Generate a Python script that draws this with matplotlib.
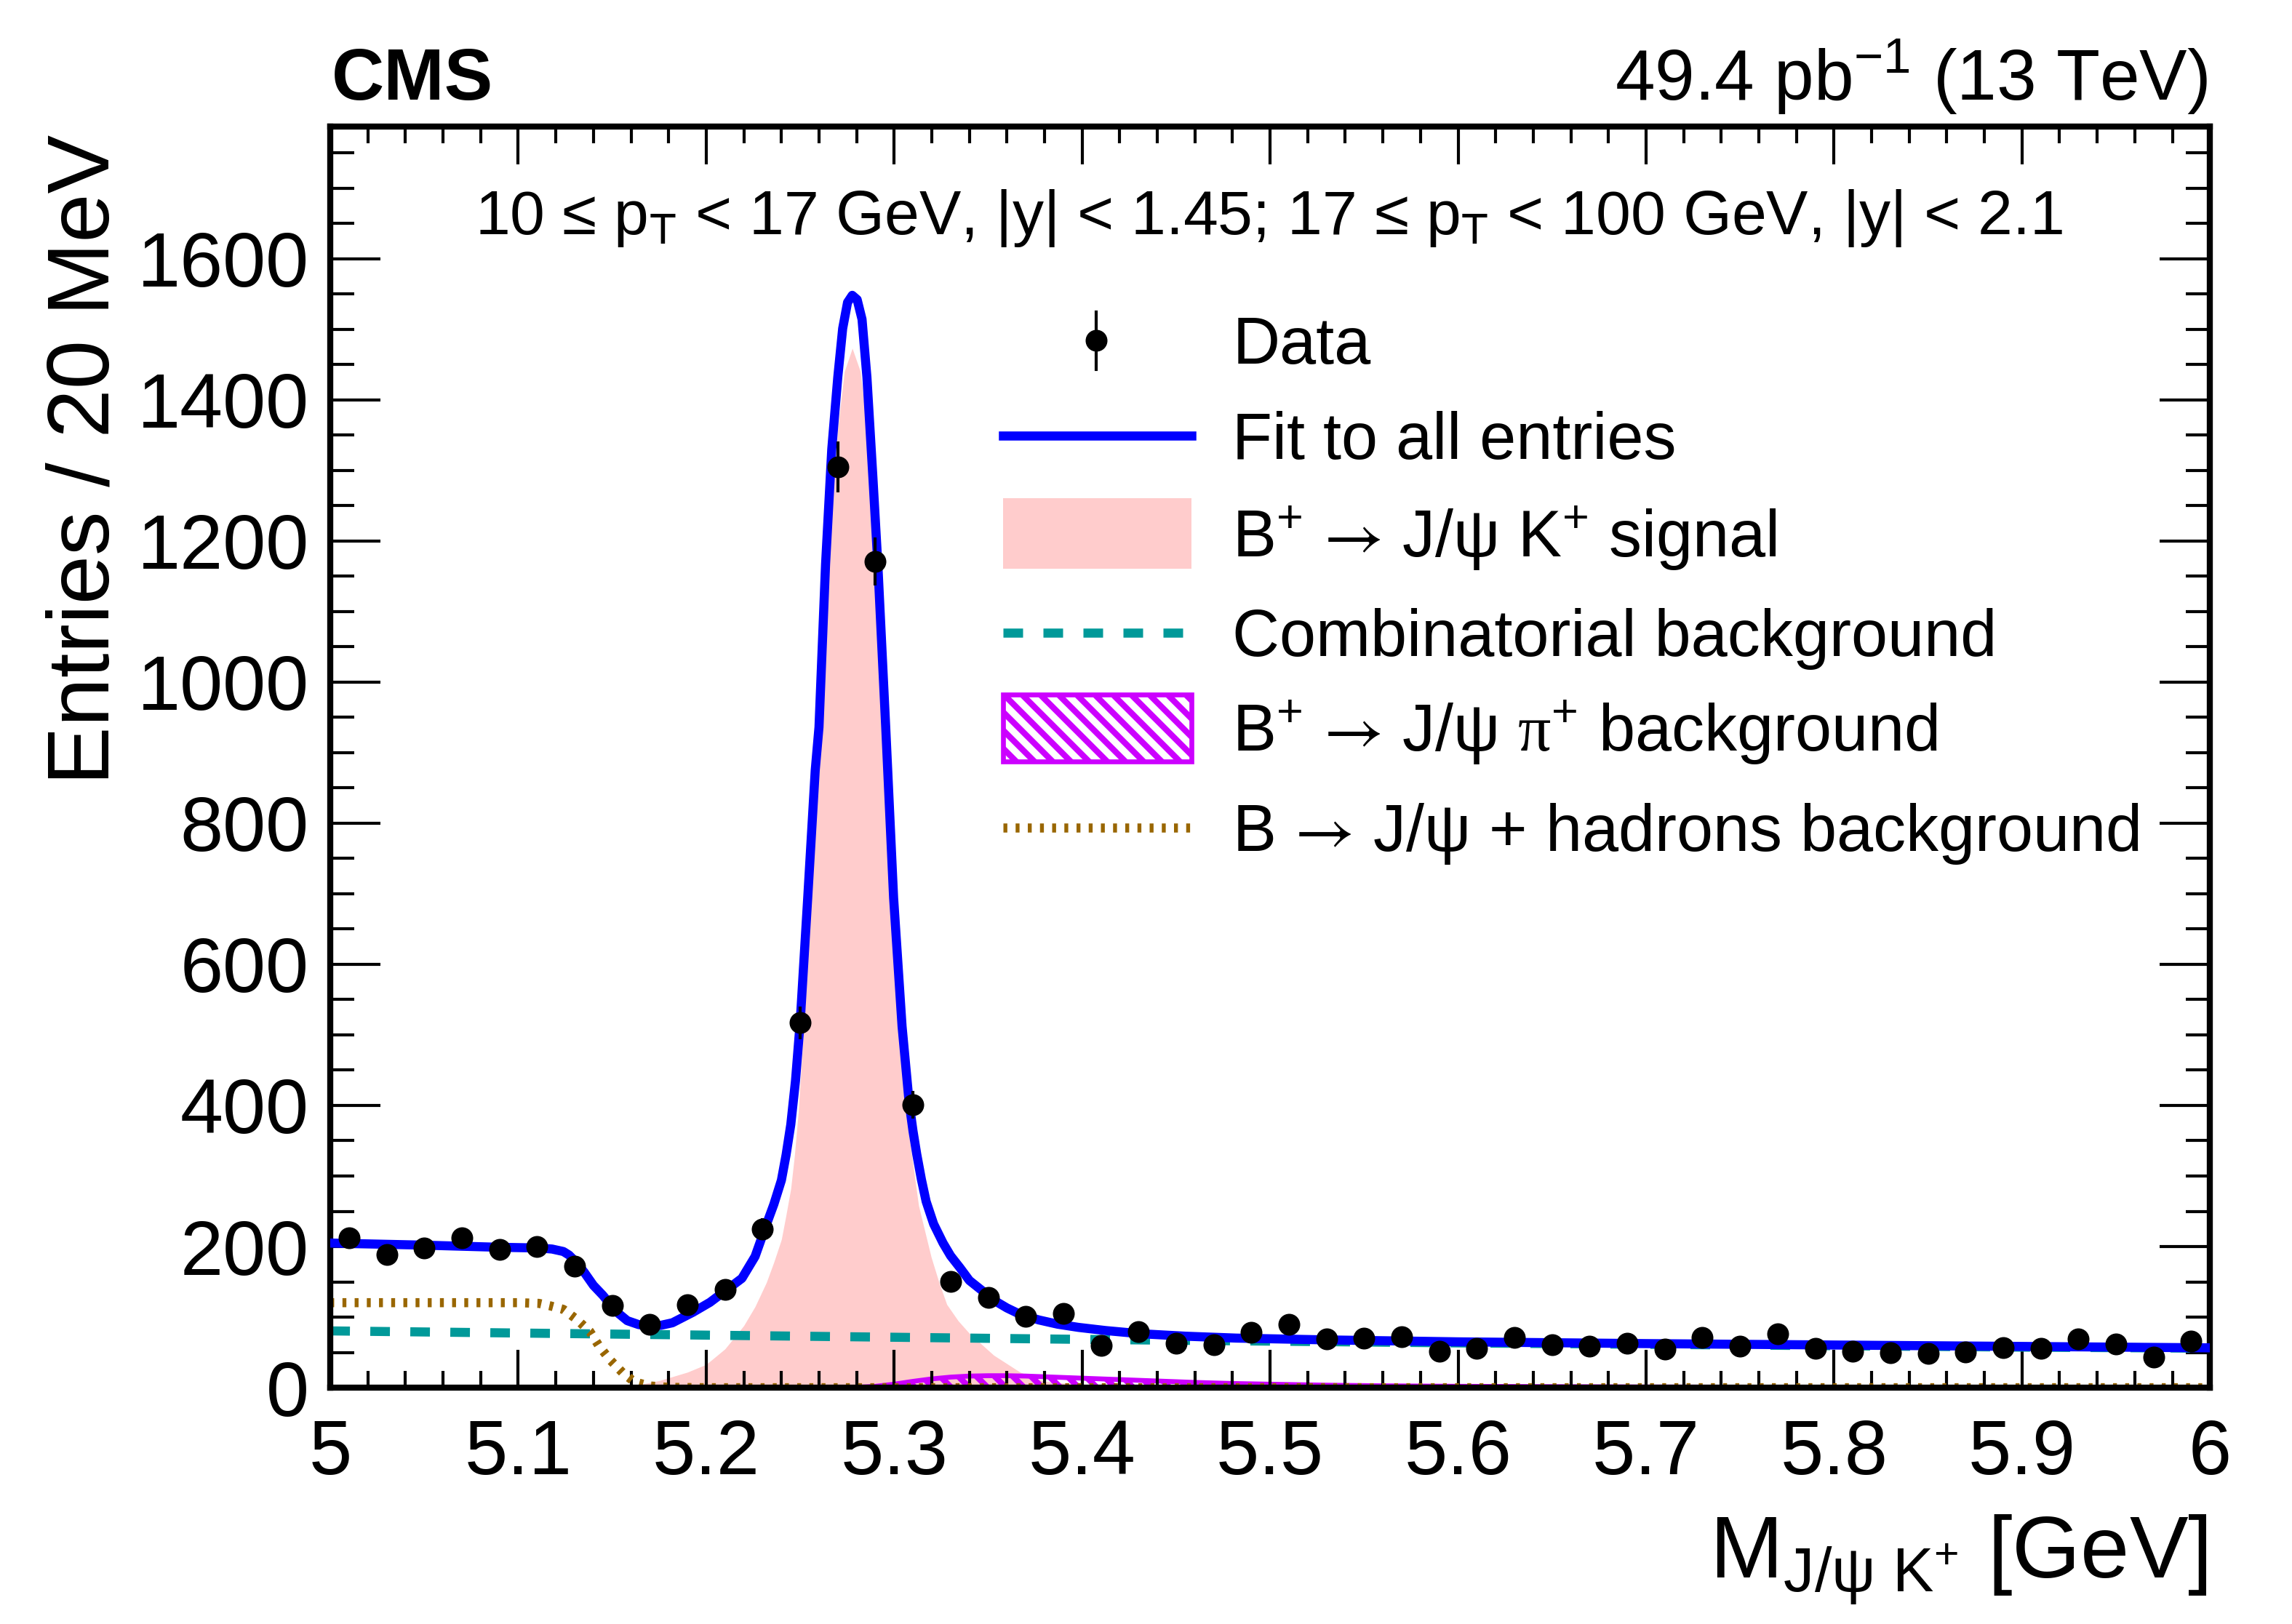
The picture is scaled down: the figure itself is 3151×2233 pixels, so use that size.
import numpy as np
import matplotlib
matplotlib.use('Agg')
import matplotlib.pyplot as plt
from matplotlib.ticker import MultipleLocator, FixedLocator, FixedFormatter
from matplotlib.patches import Rectangle
from matplotlib.lines import Line2D

plt.rcParams['font.family'] = ['Liberation Sans', 'DejaVu Sans']
plt.rcParams['mathtext.fontset'] = 'custom'
plt.rcParams['mathtext.rm'] = 'Liberation Sans'
plt.rcParams['mathtext.it'] = 'Liberation Sans:italic'
plt.rcParams['mathtext.bf'] = 'Liberation Sans:bold'
plt.rcParams['mathtext.cal'] = 'STIXGeneral'
plt.rcParams['mathtext.tt'] = 'Liberation Serif'
plt.rcParams['hatch.linewidth'] = 2.0

# data points, 20 MeV bins
mass = [5.01, 5.03, 5.05, 5.07, 5.09, 5.11, 5.13, 5.15, 5.17, 5.19,
        5.21, 5.23, 5.25, 5.27, 5.29, 5.31, 5.33, 5.35, 5.37, 5.39,
        5.41, 5.43, 5.45, 5.47, 5.49, 5.51, 5.53, 5.55, 5.57, 5.59,
        5.61, 5.63, 5.65, 5.67, 5.69, 5.71, 5.73, 5.75, 5.77, 5.79,
        5.81, 5.83, 5.85, 5.87, 5.89, 5.91, 5.93, 5.95, 5.97, 5.99]
entries = [212, 189, 198, 212, 196, 200, 172, 117, 90, 118,
           139, 225, 517, 1305, 1171, 401, 151, 128, 101, 105,
           60, 79, 63, 61, 78, 90, 69, 70, 72, 52,
           56, 71, 61, 59, 63, 55, 71, 59, 76, 56,
           52, 50, 49, 51, 57, 56, 69, 62, 43, 66]

# total fit
fit_mass = [5.000, 5.050, 5.090, 5.111, 5.118, 5.124, 5.127, 5.130, 5.135, 5.140,
            5.145, 5.149, 5.153, 5.158, 5.164, 5.170, 5.176, 5.182, 5.193, 5.202,
            5.210, 5.219, 5.226, 5.232, 5.236, 5.240, 5.2425, 5.245, 5.2475, 5.250,
            5.254, 5.258, 5.260, 5.2635, 5.2668, 5.270, 5.2726, 5.2752, 5.2777, 5.2803,
            5.2829, 5.2855, 5.2887, 5.2913, 5.2955, 5.2997, 5.3042, 5.308, 5.310, 5.312,
            5.3145, 5.317, 5.321, 5.326, 5.330, 5.335, 5.340, 5.348, 5.353, 5.360,
            5.367, 5.377, 5.387, 5.398, 5.4125, 5.431, 5.455, 5.482, 5.529, 5.600,
            5.700, 5.800, 5.900, 6.000]
fit_entries = [205, 202, 199, 198, 196.5, 193, 188, 180, 164, 145,
               131, 118, 106, 95, 89.5, 87, 88.5, 92, 107, 121,
               137, 155, 186, 231, 260, 294, 330, 373, 435, 518,
               694, 875, 936, 1167, 1330, 1432, 1501, 1538, 1548, 1542,
               1514, 1432, 1289, 1167, 936, 694, 512, 403, 364, 331,
               295, 264, 232, 205, 187, 170, 152, 135, 124, 113,
               104, 96, 90, 85.5, 81, 76.5, 73, 70.3, 67.8, 65,
               62.5, 60.5, 58.5, 56.5]

# B+ -> J/psi K+ signal
sig_mass = [5.140, 5.150, 5.160, 5.175, 5.190, 5.200, 5.210, 5.220, 5.226, 5.232,
            5.236, 5.240, 5.2425, 5.245, 5.247, 5.249, 5.2526, 5.2565, 5.260, 5.2635,
            5.267, 5.270, 5.2735, 5.2777, 5.282, 5.2855, 5.289, 5.2925, 5.2945, 5.299,
            5.304, 5.308, 5.313, 5.3197, 5.324, 5.328, 5.334, 5.340, 5.353, 5.367,
            5.380, 5.400, 5.450, 5.500]
sig_entries = [0, 0.5, 2, 10, 22, 33, 55, 88, 115, 149,
               178, 210, 245, 282, 330, 391, 542, 754, 935, 1090,
               1250, 1360, 1440, 1473, 1440, 1360, 1220, 1060, 935, 694,
               482, 355, 258, 185, 148, 118, 95, 77, 46, 22,
               9, 4, 1, 0]

# combinatorial background
comb_mass = [5.0, 5.1, 5.2, 5.3, 5.4, 5.5, 5.6, 5.7, 5.8, 5.9, 6.0]
comb_entries = [80.5, 77.5, 74.5, 71.5, 68.5, 66, 63.5, 61.5, 59.5, 57.5, 56]

# B+ -> J/psi pi+ background
pi_mass = [5.00, 5.26, 5.28, 5.29, 5.30, 5.31, 5.32, 5.33, 5.34, 5.35,
           5.36, 5.37, 5.38, 5.40, 5.42, 5.44, 5.46, 5.48, 5.50, 5.53,
           5.56, 5.60, 5.70, 5.80, 6.00]
pi_entries = [0, 0, 0.5, 2, 5, 9, 12.5, 15, 16.5, 17,
              17, 16.5, 15.5, 13.5, 11.5, 9.5, 7.5, 6, 5, 3.6,
              2.7, 2, 1, 0.5, 0.3]

# B -> J/psi + hadrons background
had_mass = [5.000, 5.050, 5.100, 5.111, 5.117, 5.124, 5.131, 5.138, 5.143, 5.149,
            5.156, 5.162, 5.170, 5.180, 5.200, 6.000]
had_entries = [120.5, 120.5, 120.5, 119.5, 116, 111, 97, 80, 59, 39,
               20, 8, 2.5, 0.5, 0, 0]

xtick_vals = [5.0, 5.1, 5.2, 5.3, 5.4, 5.5, 5.6, 5.7, 5.8, 5.9, 6.0]
xtick_labels = ['5', '5.1', '5.2', '5.3', '5.4', '5.5', '5.6', '5.7', '5.8', '5.9', '6']
ytick_vals = [0, 200, 400, 600, 800, 1000, 1200, 1400, 1600]

blue = '#0000ff'
teal = '#009999'
pink = '#ffcccc'
magenta = '#cc00ff'
brown = '#996600'
lw = 3.0
comb_dash = (0, (2.16, 2.24))
had_dash = (0, (0.43, 0.91))
hatch = '\\\\\\\\'

fig = plt.figure(figsize=(3151 / 300, 2233 / 300), dpi=300)
ax = fig.add_axes([0.1441, 0.1455, 0.8201, 0.7765])

ax.fill_between(sig_mass, 0, sig_entries, color=pink, linewidth=0, zorder=1)
ax.fill_between(pi_mass, 0, pi_entries, facecolor='none', edgecolor=magenta,
                hatch=hatch, linewidth=1.6, zorder=1.5)
ax.plot(comb_mass, comb_entries, color=teal, lw=lw, linestyle=comb_dash, zorder=2)
ax.plot(had_mass, had_entries, color=brown, lw=lw, linestyle=had_dash, zorder=2)
ax.plot(fit_mass, fit_entries, color=blue, lw=lw, zorder=3)
ax.errorbar(mass, entries, yerr=np.sqrt(entries), fmt='o', color='black', ms=6.2,
            elinewidth=1.0, capsize=0, zorder=4)

ax.set_xlim(5, 6)
ax.set_ylim(0, 1787)
ax.xaxis.set_major_locator(FixedLocator(xtick_vals))
ax.xaxis.set_major_formatter(FixedFormatter(xtick_labels))
ax.xaxis.set_minor_locator(MultipleLocator(0.02))
ax.yaxis.set_major_locator(FixedLocator(ytick_vals))
ax.yaxis.set_minor_locator(MultipleLocator(50))
ax.tick_params(which='both', direction='in', top=True, right=True, width=1.0)
ax.tick_params(axis='x', which='major', length=12.5, labelsize=25.5, pad=10)
ax.tick_params(axis='x', which='minor', length=5.5)
ax.tick_params(axis='y', which='major', length=16.6, labelsize=25.5, pad=7)
ax.tick_params(axis='y', which='minor', length=8)
for sp in ax.spines.values():
    sp.set_linewidth(2.0)

# legend, drawn by hand
rows = [0.8303, 0.7550, 0.6773, 0.5985, 0.5232, 0.4444]
x0, x1, xt = 0.358, 0.458, 0.480
tr = ax.transAxes
ax.add_line(Line2D([0.4075, 0.4075], [rows[0] - 0.023, rows[0] + 0.023], color='black',
                   lw=1.0, transform=tr))
ax.add_line(Line2D([0.4075], [rows[0]], marker='o', ms=6.2, color='black', transform=tr))
ax.add_line(Line2D([x0, x1], [rows[1], rows[1]], color=blue, lw=lw, transform=tr))
ax.add_patch(Rectangle((x0, rows[2] - 0.028), x1 - x0, 0.056, facecolor=pink,
                       edgecolor='none', transform=tr))
ax.add_line(Line2D([x0, x1], [rows[3], rows[3]], color=teal, lw=lw, linestyle=comb_dash,
                   transform=tr))
ax.add_patch(Rectangle((x0, rows[4] - 0.0265), x1 - x0, 0.053, facecolor='white',
                       edgecolor=magenta, hatch=hatch, lw=1.6, transform=tr))
ax.add_line(Line2D([x0, x1], [rows[5], rows[5]], color=brown, lw=lw, linestyle=had_dash,
                   transform=tr))

arrow = '$\\mathcal{→}$'
labels = ['Data',
          'Fit to all entries',
          'B$^{+}$ ' + arrow + ' J/ψ K$^{+}$ signal',
          'Combinatorial background',
          'B$^{+}$ ' + arrow + ' J/ψ $\\mathtt{π}^{+}$ background',
          'B ' + arrow + ' J/ψ + hadrons background']
for yy, lab in zip(rows, labels):
    ax.text(xt, yy - 0.0185, lab, transform=tr, fontsize=21.6, ha='left', va='baseline')

ax.text(0.077, 0.915, '10 ≤ p$_{\\mathrm{T}}$ < 17 GeV, |y| < 1.45; 17 ≤ p$_{\\mathrm{T}}$ < 100 GeV, |y| < 2.1',
        transform=tr, fontsize=20.65, ha='left', va='baseline')

fig.text(0.1447, 0.9387, 'CMS', fontsize=24, fontweight='bold', ha='left', va='baseline')
fig.text(0.9632, 0.9387, '49.4 pb$^{\\mathrm{-1}}$ (13 TeV)', fontsize=23.6, ha='right', va='baseline')
fig.text(0.0473, 0.917, 'Entries / 20 MeV', fontsize=29, rotation=90, rotation_mode='anchor',
         ha='right', va='baseline')
fig.text(0.9632, 0.0282, 'M$_{\\mathrm{J/ψ\\ K^{+}}}$ [GeV]', fontsize=29, ha='right', va='baseline')

fig.savefig('out.png', dpi=300)
